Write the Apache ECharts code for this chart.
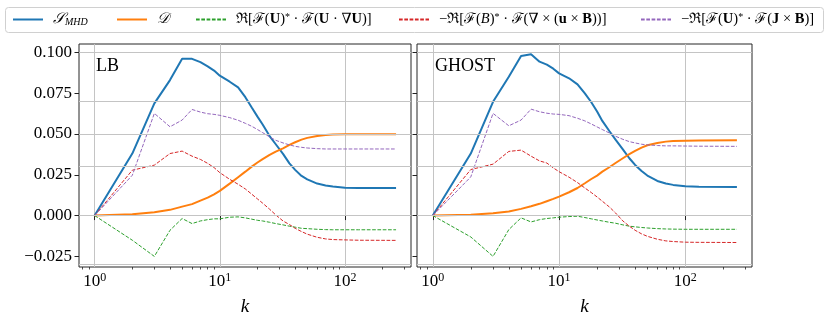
<!DOCTYPE html>
<html><head><meta charset="utf-8">
<script src="https://cdn.jsdelivr.net/npm/echarts@6/dist/echarts.min.js"></script>
<style>html,body{margin:0;padding:0;background:#fff}#c{width:831px;height:317px}</style>
</head><body><div id="c"></div><script>
// ---- data ----
const k = [1,2,3,4,5,6,7,8,9,10,12,14,16,18,20,22,25,28,32,36,40,45,50,60,70,80,100,128,256];

const lbSmhd = [0,0.038,0.0687,0.083,0.096,0.096,0.094,0.0914,0.0888,0.0857,0.082,0.0785,0.0725,0.0662,0.0606,0.0558,0.0487,0.0437,0.0378,0.032,0.028,0.0243,0.0222,0.0196,0.0184,0.0178,0.0171,0.0169,0.0169];
const lbD    = [0,0.0008,0.002,0.0035,0.0055,0.007,0.0092,0.011,0.013,0.0151,0.0196,0.0235,0.0269,0.030,0.0325,0.0346,0.0372,0.0392,0.0412,0.0433,0.0449,0.0465,0.0476,0.0488,0.0494,0.0496,0.0498,0.0498,0.0498];
const lbAdv  = [0,-0.0151,-0.025,-0.009,-0.0018,-0.0049,-0.0033,-0.0025,-0.002,-0.002,-0.001,-0.0008,-0.0014,-0.0022,-0.0029,-0.0033,-0.0041,-0.0049,-0.0057,-0.0065,-0.0071,-0.0078,-0.008,-0.0084,-0.0086,-0.0087,-0.0087,-0.0087,-0.0087];
const lbInd  = [0,0.0278,0.0309,0.038,0.0395,0.0364,0.0344,0.032,0.0294,0.0263,0.0222,0.0192,0.0163,0.0131,0.0102,0.0076,0.0039,0.0004,-0.0033,-0.0055,-0.0078,-0.0098,-0.0114,-0.0133,-0.0143,-0.0147,-0.0149,-0.0151,-0.0152];
const lbLor  = [0,0.0247,0.0626,0.0544,0.0585,0.065,0.0634,0.0624,0.062,0.0614,0.060,0.0584,0.0565,0.0547,0.0527,0.0508,0.0482,0.0461,0.0445,0.0433,0.0424,0.0418,0.0414,0.041,0.0408,0.0408,0.0408,0.0408,0.0408];

const ghSmhd = [0,0.038,0.0697,0.085,0.0977,0.0988,0.0943,0.0925,0.090,0.0871,0.0841,0.0804,0.0749,0.0694,0.0637,0.058,0.0518,0.0465,0.0406,0.0351,0.031,0.0273,0.0245,0.0212,0.0196,0.0188,0.018,0.0177,0.0175];
const ghD    = [0,0.0005,0.0014,0.0025,0.0041,0.0057,0.0072,0.0088,0.0102,0.0116,0.0143,0.0169,0.0198,0.0224,0.0245,0.0269,0.0296,0.0322,0.0351,0.0376,0.0396,0.0416,0.0431,0.0445,0.0453,0.0457,0.0459,0.046,0.0461];
const ghAdv  = [0,-0.0131,-0.025,-0.0086,-0.0014,-0.0039,-0.0025,-0.0018,-0.0014,-0.001,-0.0006,-0.0004,-0.0012,-0.002,-0.0027,-0.0033,-0.0041,-0.0047,-0.0057,-0.0065,-0.0069,-0.0073,-0.0076,-0.008,-0.0082,-0.0083,-0.0084,-0.0084,-0.0084];
const ghInd  = [0,0.0282,0.0315,0.0393,0.0401,0.0364,0.0335,0.0322,0.0292,0.0269,0.0235,0.0202,0.0169,0.0141,0.0114,0.0088,0.0053,0.0016,-0.0033,-0.0065,-0.009,-0.0112,-0.0127,-0.0145,-0.0155,-0.0159,-0.0163,-0.0164,-0.0165];
const ghLor  = [0,0.0237,0.0626,0.055,0.0585,0.0652,0.0636,0.0627,0.0622,0.062,0.0612,0.0596,0.058,0.0561,0.0543,0.0527,0.0506,0.0486,0.0467,0.0453,0.0445,0.0437,0.0433,0.0429,0.0427,0.0427,0.0426,0.0425,0.0424];

const yTicks = [-0.025,0,0.025,0.05,0.075,0.1];
const xMajor = [1,10,100];
const xMinor = [0.8,0.9,2,3,4,5,6,7,8,9,20,30,40,50,60,70,80,90,200,300];
const panelNames = ['LB','GHOST'];
const seriesNames = ['smhd','d','adv','ind','lor'];
const colors = ['#1f77b4','#ff7f0e','#2ca02c','#d62728','#9467bd'];
const solid = [true,true,false,false,false];
const panels = [[lbSmhd,lbD,lbAdv,lbInd,lbLor],[ghSmhd,ghD,ghAdv,ghInd,ghLor]];

// ---- layout ----
const FONT = '"Liberation Serif","DejaVu Serif",serif';
const grids = [
  {left:79, top:44, width:332, height:223},
  {left:417, top:44, width:335, height:223}
];
const XMIN = 0.75, XMAX = 337, YMIN = -0.0315, YMAX = 0.1051;

const legendLabels = {
  smhd: '{sp| }{cal|𝒮}{sub|MHD}',
  d: '{sp| }{cal|𝒟}',
  adv: '{sp| }{r|ℜ[ℱ(}{b|U}{r|)}{sup|*}{r| · ℱ(}{b|U}{r| · ∇}{b|U}{r|)]}',
  ind: '{sp| }{r|−ℜ[ℱ(}{i|B}{r|)}{sup|*}{r| · ℱ(∇ × (}{b|u}{r| × }{b|B}{r|))]}',
  lor: '{sp| }{r|−ℜ[ℱ(}{b|U}{r|)}{sup|*}{r| · ℱ(}{b|J}{r| × }{b|B}{r|)]}'
};
const LF = 14.5;
const legendRich = {
  sp: {width: 5, fontSize: LF},
  r: {fontFamily: FONT, fontSize: LF, color: '#000'},
  i: {fontFamily: FONT, fontSize: LF, fontStyle: 'italic', color: '#000'},
  b: {fontFamily: FONT, fontSize: LF, fontWeight: 'bold', color: '#000'},
  cal: {fontFamily: FONT, fontSize: 15, fontStyle: 'italic', color: '#000'},
  sub: {fontFamily: FONT, fontSize: 10, fontStyle: 'italic', color: '#000', verticalAlign: 'bottom'},
  sup: {fontFamily: FONT, fontSize: 10, color: '#000', verticalAlign: 'top'}
};
const legendLeft = [12, 116, 195, 398, 640];

const xAxes = [], yAxes = [], series = [];
grids.forEach((g, gi) => {
  xAxes.push({
    type: 'log', gridIndex: gi, min: XMIN, max: XMAX, position: 'bottom',
    name: 'k', nameLocation: 'middle', nameGap: 30,
    nameTextStyle: {fontFamily: FONT, fontSize: 19, fontStyle: 'italic', color: '#000'},
    axisLine: {show: false},
    axisTick: {show: true, customValues: xMajor, length: 4.5, lineStyle: {color: '#222', width: 1}},
    axisLabel: {show: true, customValues: xMajor, margin: 5, color: '#000',
      formatter: v => '{m|10}{s|' + Math.round(Math.log10(v)) + '}',
      rich: {m: {fontFamily: FONT, fontSize: 17, lineHeight: 20, color: '#000'},
             s: {fontFamily: FONT, fontSize: 12, verticalAlign: 'top', color: '#000'}}},
    splitLine: {show: true, lineStyle: {color: '#c4c4c4', width: 1}}
  });
  yAxes.push({
    type: 'value', gridIndex: gi, min: YMIN, max: YMAX,
    axisLine: {show: false},
    axisTick: {show: true, customValues: yTicks, length: 4.5, lineStyle: {color: '#222', width: 1}},
    axisLabel: {show: gi === 0, customValues: yTicks, margin: 7, color: '#000',
      fontFamily: FONT, fontSize: 17,
      formatter: v => (v < 0 ? '−' : '') + Math.abs(v).toFixed(3)},
    splitLine: {show: false}
  });
  // gridlines for y (behind the curves)
  series.push({
    type: 'line', name: 'grid' + gi, xAxisIndex: gi, yAxisIndex: gi, data: [], z: 1, silent: true,
    markLine: {silent: true, symbol: ['none','none'], animation: false, label: {show: false},
      lineStyle: {color: '#c4c4c4', width: 1, type: 'solid'},
      data: yTicks.map(v => ({yAxis: v}))}
  });
  panels[gi].forEach((vals, si) => {
    series.push({
      type: 'line', name: seriesNames[si], xAxisIndex: gi, yAxisIndex: gi,
      data: k.map((x, i) => [x, vals[i]]),
      symbol: 'none', showSymbol: false, silent: true, z: 3,
      lineStyle: {color: colors[si], width: solid[si] ? 2 : 1, type: solid[si] ? 'solid' : [3.7, 1.6]},
      itemStyle: {color: colors[si]}
    });
  });
});
// minor ticks on the log axes
grids.forEach((g, gi) => {
  xAxes.push({
    type: 'log', gridIndex: gi, min: XMIN, max: XMAX, position: 'bottom',
    axisLine: {show: false}, axisLabel: {show: false}, splitLine: {show: false},
    axisTick: {show: true, customValues: xMinor, length: 2.5, lineStyle: {color: '#222', width: 0.8}}
  });
});

const legends = seriesNames.map((n, i) => ({
  data: [n], left: legendLeft[i], top: 12, padding: 0,
  itemWidth: 30, itemHeight: 14, selectedMode: false,
  itemStyle: {color: 'transparent', borderColor: 'transparent', borderWidth: 0, opacity: 0},
  formatter: name => legendLabels[name],
  textStyle: {rich: legendRich, fontFamily: FONT, fontSize: LF, color: '#000'}
}));

const chart = echarts.init(document.getElementById('c'), null, {renderer: 'canvas'});
chart.setOption({
  animation: false,
  backgroundColor: '#fff',
  grid: grids.map(g => Object.assign({show: true, borderColor: '#262626', borderWidth: 1,
    backgroundColor: 'transparent', containLabel: false, outerBoundsMode: 'none'}, g)),
  xAxis: xAxes,
  yAxis: yAxes,
  legend: legends,
  series: series,
  graphic: [
    {type: 'rect', z: -1, shape: {x: 5.5, y: 7.5, width: 818, height: 25, r: 3},
     style: {fill: '#fff', stroke: '#d0d0d0', lineWidth: 1}},
    {type: 'text', left: 96, top: 57, z: 10,
     style: {text: panelNames[0], font: '18px ' + FONT, fill: '#000'}},
    {type: 'text', left: 435, top: 57, z: 10,
     style: {text: panelNames[1], font: '18px ' + FONT, fill: '#000'}}
  ]
});
</script></body></html>
